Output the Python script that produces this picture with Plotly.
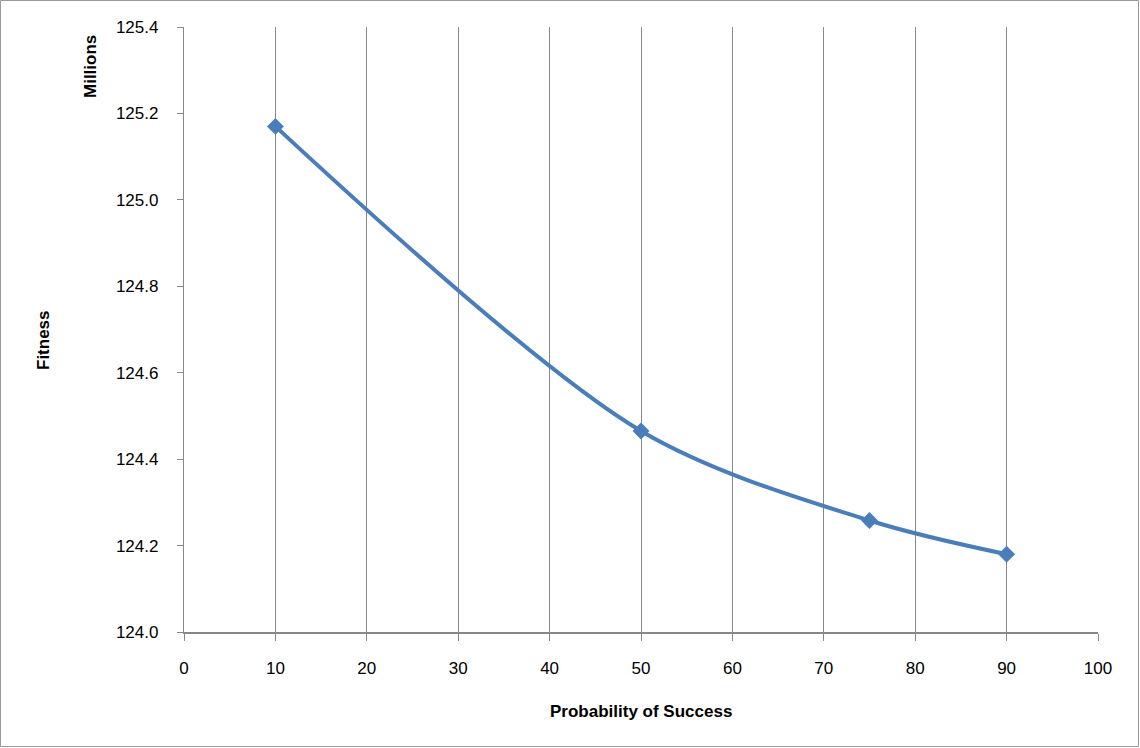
import plotly.graph_objects as go

prob = [10, 50, 75, 90]
fitness = [125.17, 124.465, 124.258, 124.18]
xticks = [0, 10, 20, 30, 40, 50, 60, 70, 80, 90, 100]
yticks = [124.0, 124.2, 124.4, 124.6, 124.8, 125.0, 125.2, 125.4]

W, H = 1140, 748
L, R, T, B = 184, 42, 27, 116
pw, ph = W - L - R, H - T - B

fig = go.Figure()
fig.add_trace(go.Scatter(
    x=prob, y=fitness, mode="lines+markers",
    line=dict(color="#4A7EBB", width=4, shape="spline", smoothing=0.9),
    marker=dict(symbol="diamond", size=13, color="#4A7EBB"),
    showlegend=False))

font = "Liberation Sans"
fig.update_layout(
    width=W, height=H,
    margin=dict(l=L, r=R, t=T, b=B),
    paper_bgcolor="white", plot_bgcolor="white",
    font=dict(family=font, size=17, color="black"),
    xaxis=dict(range=[0, 100], tickvals=xticks, showgrid=True, gridcolor="#888888", gridwidth=1.3,
               showline=True, linecolor="#888888", linewidth=2, ticks="outside", ticklen=7,
               tickcolor="#888888", tickwidth=1.3, zeroline=False, tickfont=dict(size=17),
               ticklabelstandoff=13),
    yaxis=dict(range=[124.0, 125.4], tickvals=yticks, tickformat=".1f", showgrid=False,
               showline=True, linecolor="#888888", linewidth=1.3, ticks="outside", ticklen=6,
               tickcolor="#888888", tickwidth=1.3, zeroline=False, tickfont=dict(size=17),
               ticklabelstandoff=15),
    shapes=[dict(type="rect", xref="paper", yref="paper",
                 x0=-(L - 0.5) / pw, x1=1 + (R - 1.5) / pw,
                 y0=-(B - 1.5) / ph, y1=1 + (T - 0.5) / ph,
                 line=dict(color="#999999", width=1))],
    annotations=[
        dict(text="<b>Probability of Success</b>", xref="paper", yref="paper",
             x=(641 - L) / pw, y=-(711 - T - ph) / ph, showarrow=False,
             font=dict(size=17), xanchor="center", yanchor="middle"),
        dict(text="<b>Fitness</b>", xref="paper", yref="paper",
             x=(43 - L) / pw, y=1 - (340 - T) / ph, showarrow=False, textangle=-90,
             font=dict(size=17), xanchor="center", yanchor="middle"),
        dict(text="<b>Millions</b>", xref="paper", yref="paper",
             x=(90 - L) / pw, y=1 - (67 - T) / ph, showarrow=False, textangle=-90,
             font=dict(size=17), xanchor="center", yanchor="middle"),
    ],
)
fig.write_html("out.html")
